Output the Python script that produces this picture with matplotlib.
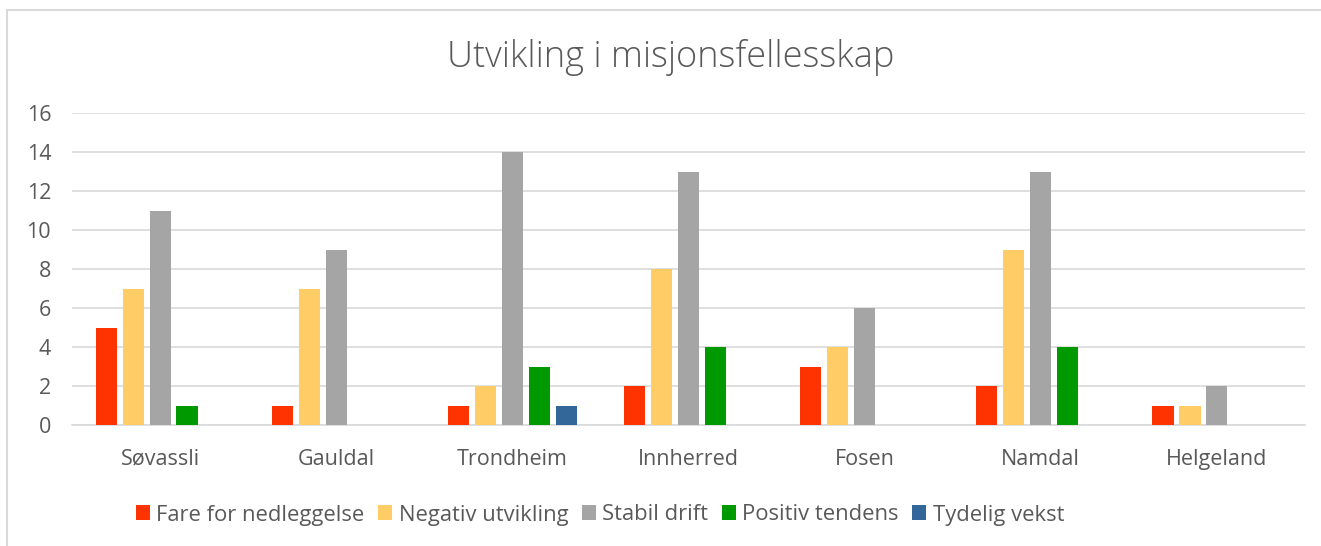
import matplotlib
matplotlib.use("Agg")
import matplotlib.pyplot as plt
import numpy as np
from matplotlib.patches import Rectangle

categories = ["Søvassli", "Gauldal", "Trondheim", "Innherred", "Fosen", "Namdal", "Helgeland"]
series_names = ["Fare for nedleggelse", "Negativ utvikling", "Stabil drift", "Positiv tendens", "Tydelig vekst"]
fare = [5, 1, 1, 2, 3, 2, 1]
negativ = [7, 7, 2, 8, 4, 9, 1]
stabil = [11, 9, 14, 13, 6, 13, 2]
positiv = [1, 0, 3, 4, 0, 4, 0]
tydelig = [0, 0, 1, 0, 0, 0, 0]
colors = ["#FF3300", "#FFCC66", "#A5A5A5", "#009900", "#336699"]
yticks = [0, 2, 4, 6, 8, 10, 12, 14, 16]

plt.rcParams['font.family'] = ['Open Sans', 'DejaVu Sans']
fig = plt.figure(figsize=(13.21, 5.46), dpi=100)
fig.patch.set_facecolor("white")
fig.patches.append(Rectangle((7/1321, -0.1), 1.2, 1 - 10/546 + 0.1, transform=fig.transFigure,
                             fill=False, edgecolor="#D9D9D9", linewidth=1.5))

ax = fig.add_axes([72/1321, 1 - 425/546, (1305 - 72)/1321, (425 - 113)/546])
data = [fare, negativ, stabil, positiv, tydelig]
x = np.arange(len(categories))
pitch = 0.153
width = 0.12
for i, (vals, name, c) in enumerate(zip(data, series_names, colors)):
    ax.bar(x + (i - 2) * pitch, vals, width=width, color=c, label=name, zorder=3)

ax.set_xlim(-0.5, len(categories) - 0.5)
ax.set_ylim(0, 16)
ax.set_yticks(yticks)
ax.set_xticks(x)
ax.set_xticklabels(categories)
ax.yaxis.grid(True, color="#D9D9D9", linewidth=1.2, zorder=0)
for s in ["top", "right", "left"]:
    ax.spines[s].set_visible(False)
ax.spines["bottom"].set_color("#D9D9D9")
ax.spines["bottom"].set_linewidth(1.2)
ax.tick_params(axis="both", length=0, colors="#595959", labelsize=15.5)
ax.tick_params(axis="x", pad=17)
ax.tick_params(axis="y", pad=15)
for t in ax.get_yticklabels():
    t.set_horizontalalignment("right")

fig.text(671/1321, 1 - 57/546, "Utvikling i misjonsfellesskap", ha="center", va="center",
         fontsize=26, color="#595959", fontweight="light")

leg = fig.legend(loc="center", bbox_to_anchor=(600/1321, 1 - 515/546), ncol=5, frameon=False,
                 fontsize=15.8, handlelength=0.65, handleheight=0.65, handletextpad=0.3,
                 columnspacing=0.6, labelcolor="#595959")

fig.savefig("out.png", dpi=100, facecolor="white")
